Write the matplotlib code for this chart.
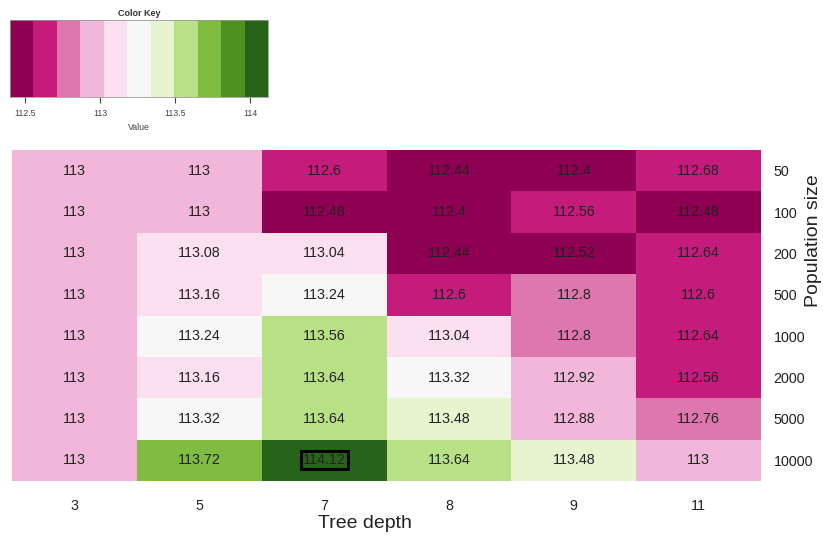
import numpy as np
import matplotlib
matplotlib.use("Agg")
import matplotlib.pyplot as plt
from matplotlib.colors import ListedColormap, BoundaryNorm

plt.rcParams["font.family"] = ["Liberation Sans", "DejaVu Sans"]

# tree depth (columns) x population size (rows)
tree_depth = ["3", "5", "7", "8", "9", "11"]
pop_size = ["50", "100", "200", "500", "1000", "2000", "5000", "10000"]

row_50 = [113, 113, 112.6, 112.44, 112.4, 112.68]
row_100 = [113, 113, 112.48, 112.4, 112.56, 112.48]
row_200 = [113, 113.08, 113.04, 112.44, 112.52, 112.64]
row_500 = [113, 113.16, 113.24, 112.6, 112.8, 112.6]
row_1000 = [113, 113.24, 113.56, 113.04, 112.8, 112.64]
row_2000 = [113, 113.16, 113.64, 113.32, 112.92, 112.56]
row_5000 = [113, 113.32, 113.64, 113.48, 112.88, 112.76]
row_10000 = [113, 113.72, 114.12, 113.64, 113.48, 113]

# PiYG, 11 classes
piyg = ["#8E0152", "#C51B7D", "#DE77AE", "#F1B6DA", "#FDE0EF", "#F7F7F7",
        "#E6F5D0", "#B8E186", "#7FBC41", "#4D9221", "#276419"]

vals = np.array([row_50, row_100, row_200, row_500,
                 row_1000, row_2000, row_5000, row_10000])
vmin, vmax = vals.min(), vals.max()
breaks = np.linspace(vmin, vmax, len(piyg) + 1)
cmap = ListedColormap(piyg)
norm = BoundaryNorm(breaks, cmap.N)

W, H = 823, 540
fig = plt.figure(figsize=(W / 100, H / 100), dpi=100)

# main heatmap
ax = fig.add_axes([12 / W, 1 - 481 / H, 749 / W, 331 / H])
ax.pcolormesh(np.arange(len(tree_depth) + 1), np.arange(len(pop_size) + 1),
              vals, cmap=cmap, norm=norm)
ax.set_xlim(0, len(tree_depth))
ax.set_ylim(len(pop_size), 0)
for s in ax.spines.values():
    s.set_visible(False)

best = np.unravel_index(np.argmax(vals), vals.shape)
for i in range(vals.shape[0]):
    for j in range(vals.shape[1]):
        label = f"{vals[i, j]:g}"
        kw = {}
        if (i, j) == best:
            kw["bbox"] = dict(boxstyle="square,pad=0.15", fc="none",
                              ec="black", lw=2.2)
        ax.text(j + 0.5, i + 0.5, label, ha="center", va="center",
                fontsize=10.3, color="#222222", **kw)

ax.set_xticks(np.arange(len(tree_depth)) + 0.5)
ax.set_xticklabels(tree_depth)
ax.set_yticks(np.arange(len(pop_size)) + 0.5)
ax.set_yticklabels(pop_size)
ax.yaxis.tick_right()
ax.tick_params(axis="x", length=0, pad=13, labelsize=10.3, colors="#222222")
ax.tick_params(axis="y", length=0, pad=9, labelsize=10.3, colors="#222222")

fig.text(365 / W, 1 - 524 / H, "Tree depth", ha="center", va="center",
         fontsize=14, color="#222222")
fig.text(813 / W, 1 - 241 / H, "Population size", ha="center", va="center",
         rotation=90, fontsize=14, color="#222222")

# colour key
kax = fig.add_axes([10 / W, 1 - 97 / H, 258 / W, 77 / H])
kax.pcolormesh(breaks, [0, 1], np.array([(breaks[:-1] + breaks[1:]) / 2]),
               cmap=cmap, norm=norm)
kax.set_xlim(vmin, vmax)
kax.set_ylim(0, 1)
kax.set_yticks([])
kax.set_xticks([112.5, 113, 113.5, 114])
kax.set_xticklabels(["112.5", "113", "113.5", "114"])
kax.tick_params(axis="x", length=4.5, width=0.8, pad=4, labelsize=6.3,
                colors="#444444")
for s in kax.spines.values():
    s.set_color("#999999")
    s.set_linewidth(0.6)
kax.set_xlabel("Value", fontsize=6.3, labelpad=4, color="#444444")
kax.set_title("Color Key", fontsize=6.5, fontweight="bold", pad=3,
              color="#333333")

fig.savefig("out.png", dpi=100)
